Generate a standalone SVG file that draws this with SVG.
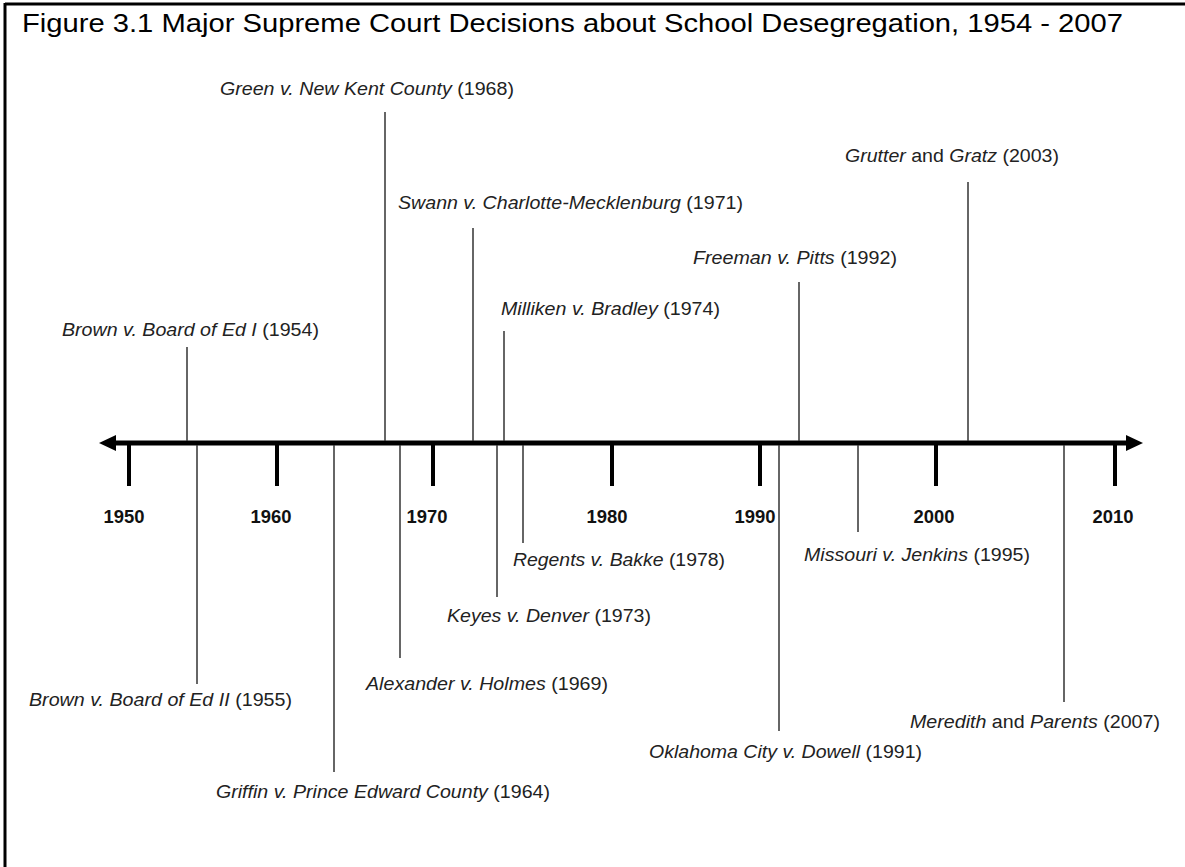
<svg xmlns="http://www.w3.org/2000/svg" width="1185" height="867" viewBox="0 0 1185 867">
<style>
.lbl{font-family:"Liberation Sans",Arial,sans-serif;font-size:18px;fill:#222}
.it{font-style:italic}
.yr{font-family:"Liberation Sans",Arial,sans-serif;font-size:18px;font-weight:bold;fill:#111;text-anchor:middle}
.ttl{font-family:"Liberation Sans",Arial,sans-serif;font-size:25px;fill:#000}
.ev{stroke:#333;stroke-width:1.5;fill:none}
.tick{stroke:#000;stroke-width:4}
</style>
<rect width="1185" height="867" fill="#fff"/>
<g id="frame" stroke="#000" stroke-width="3" fill="none">
<line x1="5" y1="4" x2="1185" y2="4"/>
<line x1="5" y1="3" x2="5" y2="867"/>
</g>
<text class="ttl" x="22" y="32" textLength="1101" lengthAdjust="spacingAndGlyphs">Figure 3.1 Major Supreme Court Decisions about School Desegregation, 1954 - 2007</text>
<g id="axis">
<line x1="112" y1="443" x2="1130" y2="443" stroke="#000" stroke-width="5"/>
<polygon points="99,443 116,435 116,451" fill="#000"/>
<polygon points="1143,443 1126,435 1126,451" fill="#000"/>
<line class="tick" x1="129" y1="443" x2="129" y2="486"/>
<line class="tick" x1="277" y1="443" x2="277" y2="486"/>
<line class="tick" x1="433" y1="443" x2="433" y2="486"/>
<line class="tick" x1="612" y1="443" x2="612" y2="486"/>
<line class="tick" x1="760" y1="443" x2="760" y2="486"/>
<line class="tick" x1="936" y1="443" x2="936" y2="486"/>
<line class="tick" x1="1115" y1="443" x2="1115" y2="486"/>
<text class="yr" x="124" y="523" textLength="41" lengthAdjust="spacingAndGlyphs">1950</text>
<text class="yr" x="271" y="523" textLength="41" lengthAdjust="spacingAndGlyphs">1960</text>
<text class="yr" x="427" y="523" textLength="41" lengthAdjust="spacingAndGlyphs">1970</text>
<text class="yr" x="607" y="523" textLength="41" lengthAdjust="spacingAndGlyphs">1980</text>
<text class="yr" x="755" y="523" textLength="41" lengthAdjust="spacingAndGlyphs">1990</text>
<text class="yr" x="934" y="523" textLength="41" lengthAdjust="spacingAndGlyphs">2000</text>
<text class="yr" x="1113" y="523" textLength="41" lengthAdjust="spacingAndGlyphs">2010</text>
</g>
<g id="connectors">
<line class="ev" x1="385" y1="112" x2="385" y2="441"/>
<line class="ev" x1="473" y1="228" x2="473" y2="441"/>
<line class="ev" x1="968" y1="182" x2="968" y2="441"/>
<line class="ev" x1="799" y1="282" x2="799" y2="441"/>
<line class="ev" x1="504" y1="331" x2="504" y2="441"/>
<line class="ev" x1="187" y1="347" x2="187" y2="441"/>
<line class="ev" x1="197" y1="445" x2="197" y2="684"/>
<line class="ev" x1="334" y1="445" x2="334" y2="772"/>
<line class="ev" x1="400" y1="445" x2="400" y2="658"/>
<line class="ev" x1="497" y1="445" x2="497" y2="597"/>
<line class="ev" x1="523" y1="445" x2="523" y2="543"/>
<line class="ev" x1="858" y1="445" x2="858" y2="532"/>
<line class="ev" x1="779" y1="445" x2="779" y2="731"/>
<line class="ev" x1="1064" y1="445" x2="1064" y2="702"/>
</g>
<g id="green"><text class="lbl" x="220" y="95" textLength="294" lengthAdjust="spacingAndGlyphs"><tspan class="it">Green v. New Kent County</tspan> (1968)</text></g>
<g id="swann"><text class="lbl" x="398" y="209" textLength="345" lengthAdjust="spacingAndGlyphs"><tspan class="it">Swann v. Charlotte-Mecklenburg</tspan> (1971)</text></g>
<g id="grutter"><text class="lbl" x="845" y="162" textLength="214" lengthAdjust="spacingAndGlyphs"><tspan class="it">Grutter</tspan> and <tspan class="it">Gratz</tspan> (2003)</text></g>
<g id="freeman"><text class="lbl" x="693" y="264" textLength="204" lengthAdjust="spacingAndGlyphs"><tspan class="it">Freeman v. Pitts</tspan> (1992)</text></g>
<g id="milliken"><text class="lbl" x="501" y="315" textLength="219" lengthAdjust="spacingAndGlyphs"><tspan class="it">Milliken v. Bradley</tspan> (1974)</text></g>
<g id="brown1"><text class="lbl" x="62" y="336" textLength="257" lengthAdjust="spacingAndGlyphs"><tspan class="it">Brown  v. Board of Ed I</tspan> (1954)</text></g>
<g id="regents"><text class="lbl" x="513" y="566" textLength="212" lengthAdjust="spacingAndGlyphs"><tspan class="it">Regents v. Bakke</tspan> (1978)</text></g>
<g id="missouri"><text class="lbl" x="804" y="561" textLength="226" lengthAdjust="spacingAndGlyphs"><tspan class="it">Missouri v. Jenkins</tspan> (1995)</text></g>
<g id="keyes"><text class="lbl" x="447" y="622" textLength="204" lengthAdjust="spacingAndGlyphs"><tspan class="it">Keyes v. Denver</tspan> (1973)</text></g>
<g id="alexander"><text class="lbl" x="366" y="690" textLength="242" lengthAdjust="spacingAndGlyphs"><tspan class="it">Alexander v. Holmes</tspan> (1969)</text></g>
<g id="brown2"><text class="lbl" x="29" y="706" textLength="263" lengthAdjust="spacingAndGlyphs"><tspan class="it">Brown  v. Board of Ed II</tspan> (1955)</text></g>
<g id="meredith"><text class="lbl" x="910" y="728" textLength="250" lengthAdjust="spacingAndGlyphs"><tspan class="it">Meredith</tspan> and <tspan class="it">Parents</tspan> (2007)</text></g>
<g id="oklahoma"><text class="lbl" x="649" y="758" textLength="273" lengthAdjust="spacingAndGlyphs"><tspan class="it">Oklahoma City v. Dowell</tspan> (1991)</text></g>
<g id="griffin"><text class="lbl" x="216" y="798" textLength="334" lengthAdjust="spacingAndGlyphs"><tspan class="it">Griffin v. Prince Edward County</tspan> (1964)</text></g>
</svg>
